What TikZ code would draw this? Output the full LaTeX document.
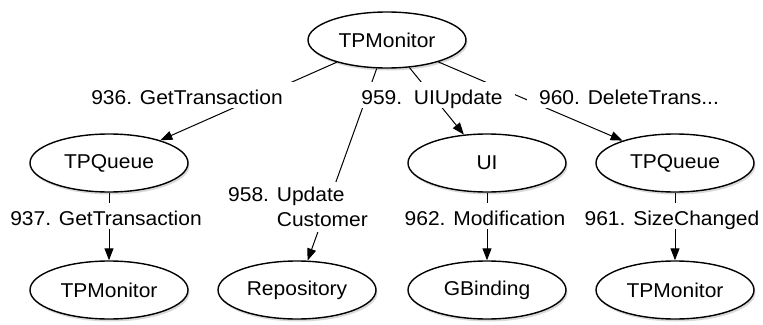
\documentclass[tikz,border=0pt]{standalone}
\usepackage{fontspec}
\setmainfont{Liberation Sans}[FakeStretch=1.05]
\usetikzlibrary{shapes.geometric,arrows.meta,shadows}
\begin{document}
\begin{tikzpicture}[x=1pt,y=-1pt,
  obj/.style={ellipse,draw,line width=1.4pt,fill=white,
    minimum width=158pt,minimum height=58pt,inner sep=0pt,
    font=\fontsize{20}{24}\selectfont,
    drop shadow={shadow xshift=1.5pt,shadow yshift=-2.5pt,opacity=0.3}},
  msg/.style={draw,line width=1pt,-{Triangle[length=12pt,width=9pt]}},
  lbl/.style={fill=white,inner xsep=12pt,inner ysep=2pt,
    text height=20pt,text depth=2pt,anchor=base,
    font=\fontsize{20}{25}\selectfont}]
\useasboundingbox (0,0) rectangle (763,324);

% objects
\node[obj,minimum height=56pt] (top) at (387,40) {TPMonitor};
\node[obj] (q1)   at (109,163) {TPQueue};
\node[obj] (ui)   at (487,163) {UI};
\node[obj] (q2)   at (675,163) {TPQueue};
\node[obj] (m1)   at (109,290) {TPMonitor};
\node[obj] (repo) at (297,290) {Repository};
\node[obj] (gb)   at (487,290) {GBinding};
\node[obj] (m2)   at (675,290) {TPMonitor};

% messages
\path[msg] (top) -- (q1);
\path[msg] (top) -- (repo);
\path[msg] (top) -- (ui);
\path[msg] (top) -- (q2);
\path[msg] (q1) -- (m1);
\path[msg] (ui) -- (gb);
\path[msg] (q2) -- (m2);

% message labels
\node[lbl] (l936) at (187,104) {936. GetTransaction};
\node[lbl] (l959) at (432,104) {959.\ \ UIUpdate};
\node[lbl] (l960) at (629,104) {960. DeleteTrans...};
\node[lbl] (l937) at (106,225) {937. GetTransaction};
\node[lbl] (l962) at (485,225) {962. Modification};
\node[lbl] (l961) at (672,225) {961. SizeChanged};
\node[lbl,anchor=north west,align=left,inner ysep=5pt,text height=,text depth=]
  (l958) at (216,182) {958. Update\\\phantom{958. }Customer};
\end{tikzpicture}
\end{document}
